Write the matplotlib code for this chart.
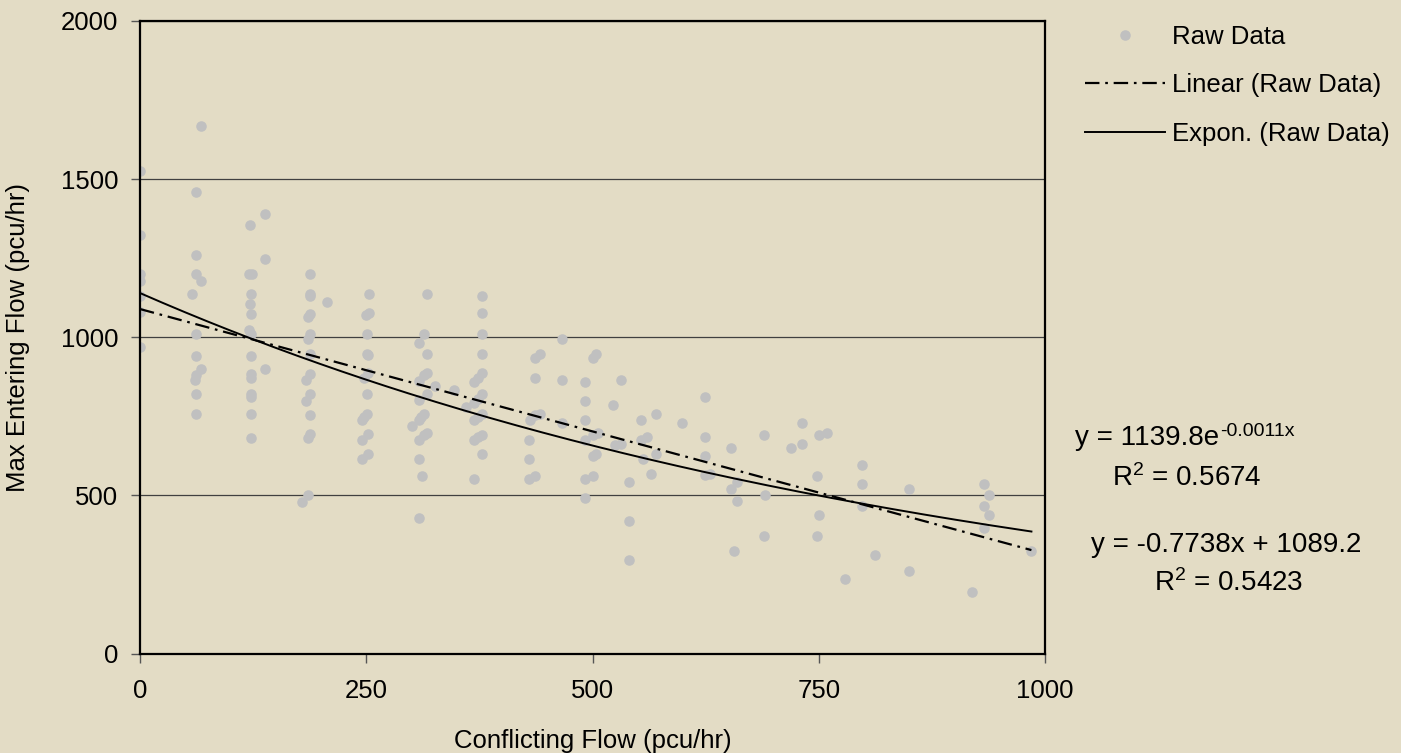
import numpy as np
import matplotlib
matplotlib.use("Agg")
import matplotlib.pyplot as plt
from matplotlib.lines import Line2D

plt.rcParams['font.family'] = ['Liberation Sans', 'DejaVu Sans']
plt.rcParams['mathtext.fontset'] = 'custom'
plt.rcParams['mathtext.rm'] = 'Liberation Sans'
plt.rcParams['mathtext.default'] = 'regular'
plt.rcParams['axes.unicode_minus'] = False

# ---- data ----
conflicting_flow = [
    0, 0, 0, 0, 0, 0, 0,
    67, 62, 62, 62, 67, 58, 62, 62, 67, 62, 61, 62, 62,
    122, 138, 138, 120, 124, 123, 122, 123, 120, 123, 123, 138, 123, 123, 123, 123, 123, 123,
    188, 188, 188, 207, 188, 186, 188, 186, 188, 188, 183, 188, 183, 188, 188, 186, 186, 179,
    253, 253, 250, 251, 251, 252, 252, 247, 251, 251, 247, 245, 252, 245, 252, 245,
    317, 314, 308, 317, 317, 314, 308, 326, 317, 308, 314, 311, 308, 300, 317, 314, 308, 308, 312, 308,
    378, 378, 378, 378, 378, 373, 369, 378, 373, 369, 360, 347, 378, 373, 369, 378, 373, 369, 378, 369,
    442, 437, 437, 442, 437, 431, 430, 430, 430, 437, 466, 466, 466,
    492, 492, 492, 492, 500, 504, 500, 504, 492, 500, 492, 506, 500,
    532, 523, 554, 570, 599, 554, 560, 525, 532, 556, 570, 565, 540, 540, 540,
    624, 624, 624, 624, 630, 653, 653, 660, 660, 656, 689, 691, 689,
    719, 731, 731, 750, 759, 748, 750, 748,
    798, 798, 798, 812, 779, 850, 850, 933, 938, 933, 938, 933, 919, 985,
]
max_entering_flow = [
    1525, 1323, 1199, 1177, 1130, 1079, 969,
    1668, 1458, 1260, 1199, 1178, 1138, 1009, 941, 900, 880, 866, 819, 757,
    1355, 1389, 1247, 1199, 1199, 1138, 1104, 1075, 1022, 1009, 941, 900, 885, 872, 819, 812, 757, 682,
    1199, 1138, 1130, 1111, 1072, 1065, 1009, 996, 948, 885, 866, 819, 799, 754, 695, 682, 500, 479,
    1138, 1077, 1070, 1009, 948, 943, 887, 872, 819, 758, 748, 737, 695, 676, 630, 615,
    1138, 1009, 982, 948, 887, 880, 862, 847, 819, 801, 758, 748, 737, 718, 697, 690, 676, 615, 561, 430,
    1131, 1077, 1009, 948, 887, 872, 859, 819, 806, 791, 780, 832, 758, 748, 739, 690, 685, 676, 630, 553,
    948, 935, 872, 758, 753, 737, 676, 615, 553, 560, 996, 866, 730,
    859, 799, 737, 676, 935, 946, 623, 630, 553, 560, 493, 697, 690,
    866, 785, 737, 758, 730, 676, 685, 658, 661, 615, 630, 568, 541, 418, 296,
    812, 685, 623, 563, 568, 650, 520, 542, 481, 324, 690, 500, 370,
    650, 730, 663, 690, 697, 561, 439, 370,
    595, 535, 467, 310, 235, 519, 262, 535, 500, 467, 439, 397, 194, 324,
]

# trendline coefficients shown on the chart
lin_slope, lin_intercept = -0.7738, 1089.2
exp_a, exp_b = 1139.8, -0.0011
eq_exp_base = 'y = 1139.8e'
eq_exp_sup = '-0.0011x'
r2_exp = r'R$^{2}$ = 0.5674'
eq_lin = 'y = -0.7738x + 1089.2'
r2_lin = r'R$^{2}$ = 0.5423'

x_ticks = [0, 250, 500, 750, 1000]
y_ticks = [0, 500, 1000, 1500, 2000]

W, H = 1401, 753
BG = '#E3DCC5'
FS = 18.5
FS_EQ = 20

fig = plt.figure(figsize=(W / 100, H / 100), dpi=100, facecolor=BG)
ax = fig.add_axes([140 / W, 1 - 653.5 / H, (1045 - 140) / W, (653.5 - 21) / H])
ax.set_facecolor(BG)

ax.plot(conflicting_flow, max_entering_flow, linestyle='none', marker='o',
        ms=7.6, mfc='#C0C0C0', mec='none', zorder=2)

xs = np.array(conflicting_flow, dtype=float)
tx = np.linspace(0, xs.max(), 200)
lin_style = (0, (6.5, 2.6, 1.2, 2.6))
ax.plot(tx, lin_slope * tx + lin_intercept, color='black', lw=1.6,
        linestyle=lin_style, zorder=3)
ax.plot(tx, exp_a * np.exp(exp_b * tx), color='black', lw=1.4, zorder=3)

ax.set_xlim(0, 1000)
ax.set_ylim(0, 2000)
ax.set_xticks(x_ticks)
ax.set_yticks(y_ticks)
ax.set_xticklabels([str(v) for v in x_ticks], fontsize=FS)
ax.set_yticklabels([str(v) for v in y_ticks], fontsize=FS)
ax.tick_params(axis='both', direction='out', length=6.5, width=1, color='#555555')
ax.tick_params(axis='x', pad=12)
ax.tick_params(axis='y', pad=9)
ax.grid(axis='y', color='#404040', lw=0.9)
ax.set_axisbelow(True)
for s in ax.spines.values():
    s.set_color('black')
    s.set_linewidth(1.6)

fig.text(593 / W, 1 - 748 / H, 'Conflicting Flow (pcu/hr)', fontsize=FS,
         ha='center', va='baseline')
fig.text(18 / W, 1 - 337 / H, 'Max Entering Flow (pcu/hr)', fontsize=FS,
         ha='center', va='center', rotation=90)

handles = [
    Line2D([], [], linestyle='none', marker='o', ms=7.6, mfc='#C0C0C0', mec='none'),
    Line2D([], [], color='black', lw=1.6, linestyle=lin_style),
    Line2D([], [], color='black', lw=1.4),
]
fig.legend(handles, ['Raw Data', 'Linear (Raw Data)', 'Expon. (Raw Data)'],
           loc='upper left', bbox_to_anchor=(1085 / W, 1 - 25 / H),
           frameon=False, fontsize=FS, handlelength=3.1, handletextpad=0.28,
           labelspacing=0.95, borderpad=0, borderaxespad=0)

t_exp = fig.text(1075 / W, 1 - 445 / H, eq_exp_base, fontsize=FS_EQ,
                 ha='left', va='baseline')
ax.annotate(eq_exp_sup, xy=(1.0, 1.0), xycoords=t_exp, xytext=(0.5, 1.5),
            textcoords='offset points', ha='left', va='top', fontsize=14,
            annotation_clip=False)
fig.text(1187 / W, 1 - 486 / H, r2_exp, fontsize=FS_EQ, ha='center', va='baseline')
fig.text(1226 / W, 1 - 552 / H, eq_lin, fontsize=FS_EQ, ha='center', va='baseline')
fig.text(1229 / W, 1 - 591 / H, r2_lin, fontsize=FS_EQ, ha='center', va='baseline')

fig.savefig('out.png', dpi=100, facecolor=BG)
